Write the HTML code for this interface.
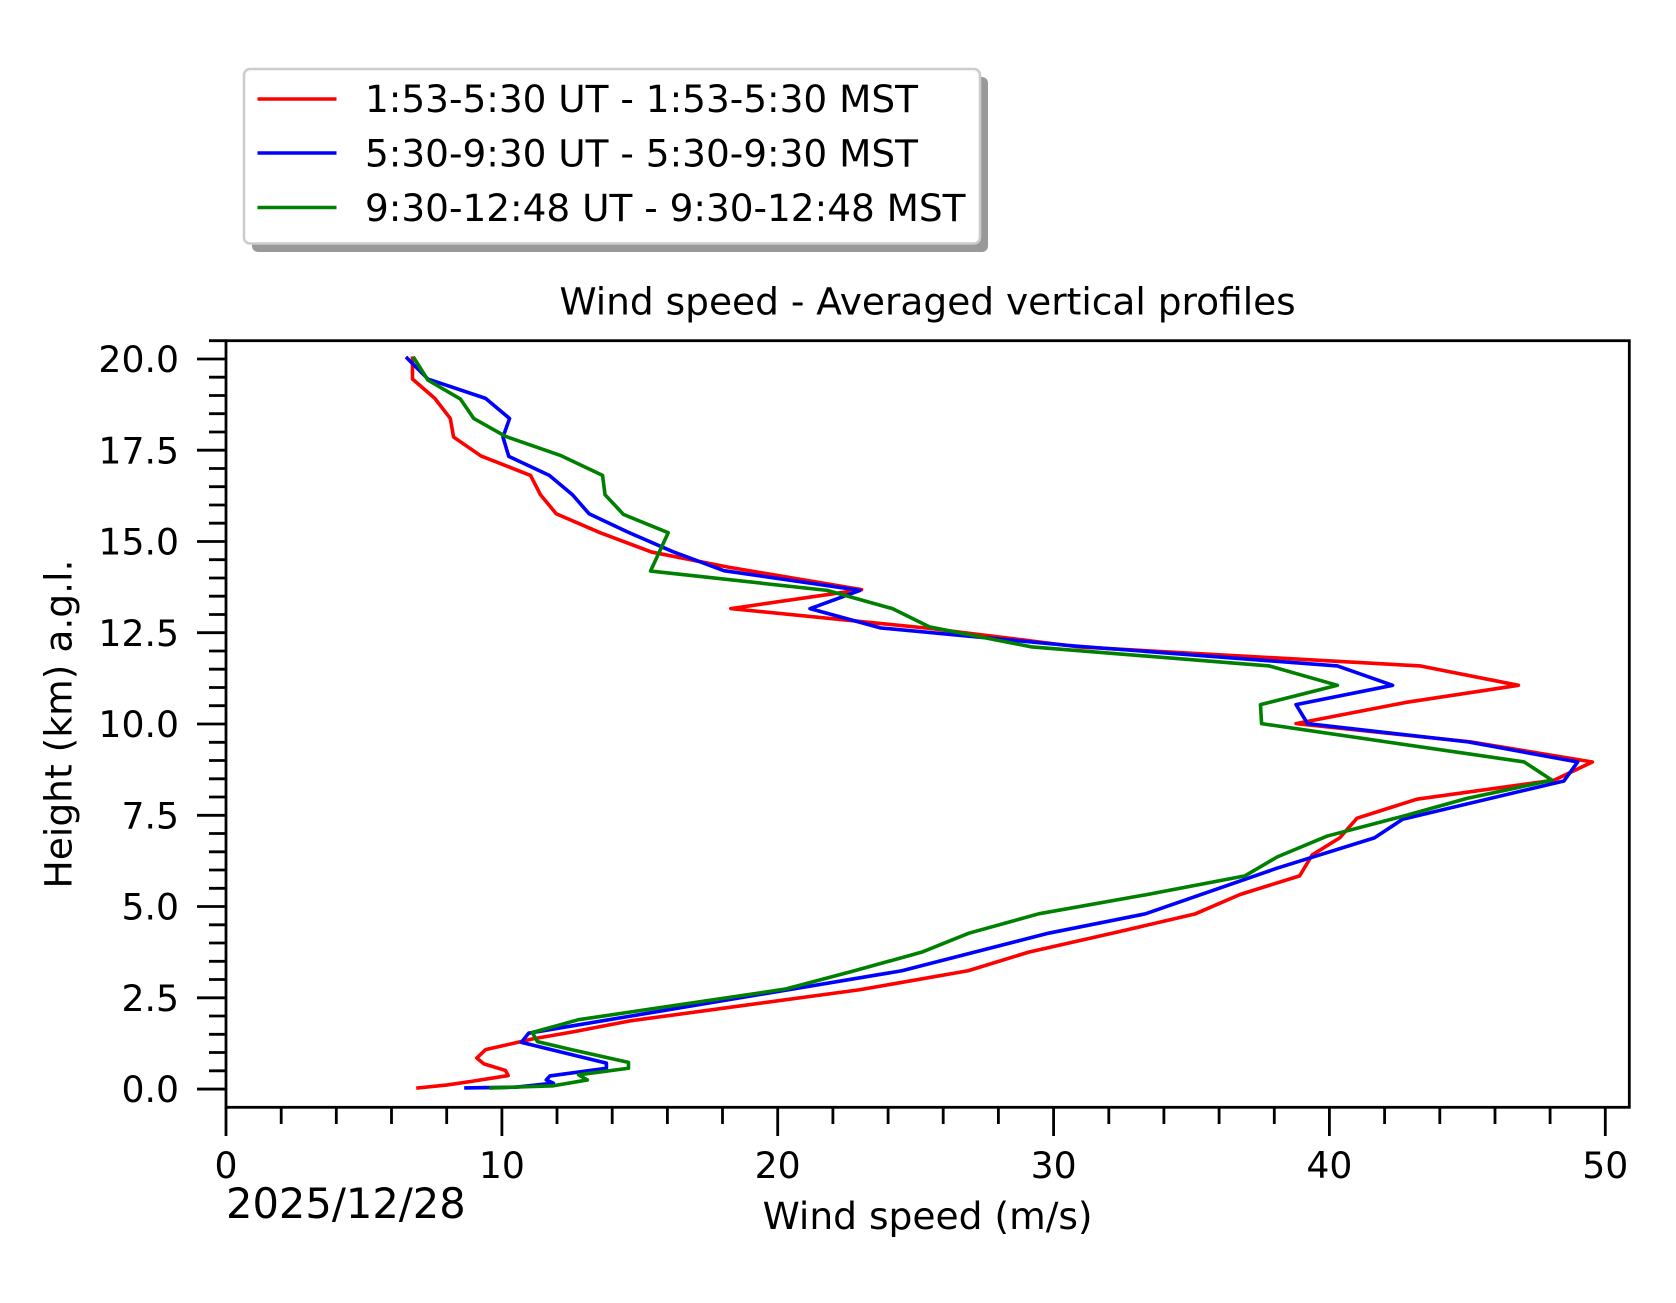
<!DOCTYPE html>
<html>
<head>
<meta charset="utf-8">
<style>
html,body{margin:0;padding:0;background:#fff;}
svg{display:block;}
text{font-family:"DejaVu Sans","Liberation Sans",sans-serif;fill:#000;}
</style>
</head>
<body>
<svg width="1676" height="1303" viewBox="0 0 1676 1303" xmlns="http://www.w3.org/2000/svg">
<rect x="0" y="0" width="1676" height="1303" fill="#fff"/>

<!-- Legend -->
<rect x="252" y="77" width="736" height="175" rx="6" ry="6" fill="#999999"/>
<rect x="244" y="69" width="736" height="174.5" rx="6" ry="6" fill="#ffffff" stroke="#cccccc" stroke-width="2.6"/>
<line x1="257.5" y1="99" x2="336.5" y2="99" stroke="#ff0000" stroke-width="3.6"/>
<line x1="257.5" y1="153" x2="336.5" y2="153" stroke="#0000ff" stroke-width="3.6"/>
<line x1="257.5" y1="207.5" x2="336.5" y2="207.5" stroke="#008000" stroke-width="3.6"/>
<text x="365" y="112" font-size="37.4">1:53-5:30 UT - 1:53-5:30 MST</text>
<text x="365" y="166.5" font-size="37.4">5:30-9:30 UT - 5:30-9:30 MST</text>
<text x="365" y="221" font-size="37.4">9:30-12:48 UT - 9:30-12:48 MST</text>

<!-- Title -->
<text x="927.6" y="314.3" font-size="37.5" text-anchor="middle">Wind speed - Averaged vertical profiles</text>

<!-- Data -->
<g transform="translate(226,1089.05) scale(27.586,-36.505)" fill="none" stroke-linejoin="round" stroke-linecap="square">
<polyline vector-effect="non-scaling-stroke" stroke="#ff0000" stroke-width="3.6" points="
6.76,20.02 6.76,19.45 7.57,18.92 8.13,18.37 8.25,17.86 9.25,17.34 11.04,16.81 11.40,16.28 11.97,15.76 13.56,15.24 15.43,14.71 18.18,14.30 23.04,13.68 18.30,13.16 25.5,12.62 30.94,12.11 43.30,11.59 46.85,11.06 42.76,10.59 38.79,10.01 45.12,9.51 49.53,8.96 48.14,8.46 43.17,7.94 41.0,7.42 40.37,6.88 39.37,6.41 38.92,5.84 36.76,5.33 35.14,4.80 32.2,4.28 29.10,3.75 26.90,3.24 22.97,2.72 14.67,1.87 12.6,1.57 11.10,1.37 9.41,1.08 9.09,0.85 9.35,0.69 10.13,0.51 10.23,0.37 8.90,0.21 7.99,0.11 6.96,0.03"/>
<polyline vector-effect="non-scaling-stroke" stroke="#0000ff" stroke-width="3.6" points="
6.57,20.02 7.32,19.45 9.41,18.92 10.28,18.37 10.04,17.86 10.25,17.33 11.72,16.81 12.56,16.28 13.16,15.76 14.56,15.26 16.2,14.72 18.05,14.20 22.98,13.66 21.17,13.16 23.74,12.63 30.72,12.14 40.29,11.59 42.29,11.06 38.79,10.53 39.21,10.01 45.02,9.51 49.0,8.96 48.50,8.44 42.65,7.39 41.63,6.88 38.1,6.05 33.33,4.80 29.82,4.27 24.50,3.24 12.7,1.75 10.97,1.53 10.71,1.28 13.79,0.71 13.79,0.57 11.74,0.36 11.61,0.25 11.87,0.16 10.5,0.05 8.70,0.03"/>
<polyline vector-effect="non-scaling-stroke" stroke="#008000" stroke-width="3.6" points="
6.82,20.02 7.32,19.42 8.50,18.90 8.98,18.37 10.13,17.88 12.15,17.35 13.65,16.81 13.74,16.28 14.41,15.74 16.03,15.24 15.39,14.19 21.79,13.66 24.16,13.16 25.50,12.66 29.22,12.11 37.82,11.59 40.29,11.06 37.50,10.53 37.54,10.01 47.06,8.96 48.07,8.46 44.97,7.96 42.80,7.50 39.92,6.93 38.11,6.36 36.94,5.84 33.33,5.32 29.46,4.80 26.93,4.27 25.22,3.75 22.78,3.24 20.29,2.74 12.78,1.90 11.10,1.55 11.29,1.30 12.52,1.08 14.59,0.73 14.59,0.57 12.78,0.39 13.10,0.25 11.87,0.09 9.61,0.03"/>
</g>

<!-- Axes frame -->
<rect x="226" y="340.7" width="1403.3" height="766.6" fill="none" stroke="#000" stroke-width="2.8"/>

<!-- X ticks -->
<path stroke="#000" stroke-width="2.8" fill="none" d="
M226 1107.3V1136 M501.9 1107.3V1136 M777.7 1107.3V1136 M1053.6 1107.3V1136 M1329.4 1107.3V1136 M1605.3 1107.3V1136
M281.2 1107.3V1124 M336.3 1107.3V1124 M391.5 1107.3V1124 M446.7 1107.3V1124
M557.0 1107.3V1124 M612.2 1107.3V1124 M667.4 1107.3V1124 M722.5 1107.3V1124
M832.9 1107.3V1124 M888.1 1107.3V1124 M943.2 1107.3V1124 M998.4 1107.3V1124
M1108.8 1107.3V1124 M1163.9 1107.3V1124 M1219.1 1107.3V1124 M1274.3 1107.3V1124
M1384.6 1107.3V1124 M1439.8 1107.3V1124 M1495.0 1107.3V1124 M1550.1 1107.3V1124"/>

<!-- Y ticks -->
<path stroke="#000" stroke-width="2.8" fill="none" d="
M197 1089.05H226 M197 997.8H226 M197 906.5H226 M197 815.3H226 M197 724.0H226 M197 632.7H226 M197 541.5H226 M197 450.2H226 M197 359.0H226
M209 1070.8H226 M209 1052.5H226 M209 1034.3H226 M209 1016.0H226
M209 979.5H226 M209 961.3H226 M209 943.0H226 M209 924.8H226
M209 888.3H226 M209 870.0H226 M209 851.8H226 M209 833.5H226
M209 797.0H226 M209 778.8H226 M209 760.5H226 M209 742.3H226
M209 705.7H226 M209 687.5H226 M209 669.2H226 M209 651.0H226
M209 614.5H226 M209 596.2H226 M209 578.0H226 M209 559.7H226
M209 523.2H226 M209 505.0H226 M209 486.7H226 M209 468.5H226
M209 432.0H226 M209 413.7H226 M209 395.5H226 M209 377.2H226
M209 340.7H226"/>

<!-- X tick labels -->
<g font-size="36.2" text-anchor="middle">
<text x="226" y="1177.8">0</text>
<text x="501.9" y="1177.8">10</text>
<text x="777.7" y="1177.8">20</text>
<text x="1053.6" y="1177.8">30</text>
<text x="1329.4" y="1177.8">40</text>
<text x="1605.3" y="1177.8">50</text>
</g>

<!-- Y tick labels -->
<g font-size="36.2" text-anchor="end">
<text x="179" y="1102.2">0.0</text>
<text x="179" y="1010.9">2.5</text>
<text x="179" y="919.6">5.0</text>
<text x="179" y="828.4">7.5</text>
<text x="179" y="737.1">10.0</text>
<text x="179" y="645.8">12.5</text>
<text x="179" y="554.6">15.0</text>
<text x="179" y="463.3">17.5</text>
<text x="179" y="372.1">20.0</text>
</g>

<!-- Axis labels -->
<text x="927.6" y="1228.8" font-size="37.6" text-anchor="middle">Wind speed (m/s)</text>
<text transform="translate(71.7,724) rotate(-90)" x="0" y="0" font-size="37.6" text-anchor="middle">Height (km) a.g.l.</text>
<text x="226" y="1218" font-size="41.6">2025/12/28</text>
</svg>
</body>
</html>
